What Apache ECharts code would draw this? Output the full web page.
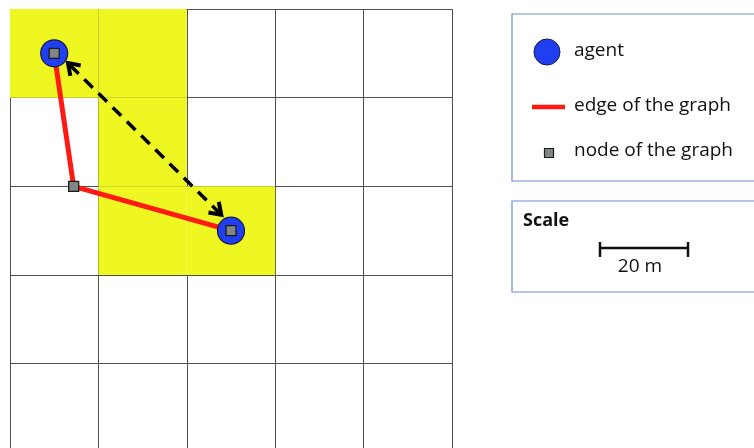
<!DOCTYPE html>
<html><head><meta charset="utf-8">
<script src="https://cdn.jsdelivr.net/npm/echarts@6/dist/echarts.min.js"></script>
<style>html,body{margin:0;padding:0;background:#fff}#c{width:754px;height:448px}</style>
</head><body><div id="c"></div>
<script>
// grid cells (column, row) highlighted in yellow
const yellowCells = [[0,0],[1,0],[1,1],[1,2],[2,2]];
// agents positions (x, y) in cell units
const agents = [[0.5,0.5],[2.5,2.5]];
// graph nodes
const nodes = [[0.5,0.5],[0.72,2.0],[2.5,2.5]];
// graph edge path
const edgePath = [[0.5,0.5],[0.72,2.0],[2.5,2.5]];
// dashed double arrow between agents (x1,y1,x2,y2)
const arrowSeg = [[0.655,0.61,2.39,2.32]];
// legend labels
const legendLabels = ['agent','edge of the graph','node of the graph'];
const scaleTitle = 'Scale';
const scaleLabel = '20 m';

const chart = echarts.init(document.getElementById('c'), null, {renderer:'canvas'});
const font = '"Open Sans", "Noto Sans", sans-serif';
const gridLine = {show:true, lineStyle:{color:'#505050', width:1}};
const option = {
  animation:false,
  backgroundColor:'#fff',
  grid:{left:10, top:9, width:442, height:439, containLabel:false},
  xAxis:{type:'value', min:0, max:5, interval:1, axisLabel:{show:false}, axisTick:{show:false}, axisLine:{show:false}, splitLine:gridLine},
  yAxis:{type:'value', min:0, max:4.95, interval:1, inverse:true, axisLabel:{show:false}, axisTick:{show:false}, axisLine:{show:false}, splitLine:gridLine},
  series:[
    {type:'custom', z:1, data:yellowCells, renderItem:function(params, api){
      const p0 = api.coord([api.value(0), api.value(1)]);
      const p1 = api.coord([api.value(0)+1, api.value(1)+1]);
      return {type:'rect', shape:{x:p0[0], y:p0[1], width:p1[0]-p0[0], height:p1[1]-p0[1]}, style:{fill:'#EEF722'}, z2:0};
    }},
    {type:'line', z:5, data:edgePath, symbol:'none', lineStyle:{color:'#FF1A14', width:5}},
    {type:'custom', z:6, data:arrowSeg, renderItem:function(params, api){
      const a = api.coord([api.value(0), api.value(1)]);
      const b = api.coord([api.value(2), api.value(3)]);
      const dx=b[0]-a[0], dy=b[1]-a[1], L=Math.hypot(dx,dy), ux=dx/L, uy=dy/L;
      const head=(tip,dir)=>{
        const ang=0.6, len=13;
        const bx=-dir[0], by=-dir[1];
        const r1=[bx*Math.cos(ang)-by*Math.sin(ang), bx*Math.sin(ang)+by*Math.cos(ang)];
        const r2=[bx*Math.cos(-ang)-by*Math.sin(-ang), bx*Math.sin(-ang)+by*Math.cos(-ang)];
        return {type:'polyline', shape:{points:[[tip[0]+r1[0]*len, tip[1]+r1[1]*len], tip, [tip[0]+r2[0]*len, tip[1]+r2[1]*len]]},
          style:{stroke:'#000', lineWidth:4, fill:null, lineJoin:'miter'}};
      };
      return {type:'group', children:[
        {type:'line', shape:{x1:a[0]+ux*3, y1:a[1]+uy*3, x2:b[0]-ux*3, y2:b[1]-uy*3}, style:{stroke:'#000', lineWidth:3.5, lineDash:[12,8]}},
        head(a,[-ux,-uy]), head(b,[ux,uy])
      ]};
    }},
    {type:'scatter', z:7, data:agents, symbol:'circle', symbolSize:27, itemStyle:{color:'#1F3FF0', borderColor:'#1a1a4a', borderWidth:1.2, opacity:1}},
    {type:'scatter', z:8, data:nodes, symbol:'rect', symbolSize:10, itemStyle:{color:'#808585', borderColor:'#1a1a1a', borderWidth:1.3, opacity:1}}
  ],
  graphic:[
    {type:'rect', shape:{x:512, y:14, width:260, height:167}, style:{fill:'#fff', stroke:'#6A8FCC', lineWidth:1.2}},
    {type:'circle', shape:{cx:547, cy:52, r:13}, style:{fill:'#1F3FF0', stroke:'#1a1a4a', lineWidth:1}},
    {type:'text', x:574, y:51, style:{text:legendLabels[0], font:'19px '+font, fill:'#111', verticalAlign:'middle'}},
    {type:'line', shape:{x1:532, y1:107, x2:565, y2:107}, style:{stroke:'#FF1A14', lineWidth:4.5}},
    {type:'text', x:574, y:106, style:{text:legendLabels[1], font:'19px '+font, fill:'#111', verticalAlign:'middle'}},
    {type:'rect', shape:{x:544.5, y:148.5, width:9, height:9}, style:{fill:'#808585', stroke:'#1a1a1a', lineWidth:1.2}},
    {type:'text', x:574, y:151, style:{text:legendLabels[2], font:'19px '+font, fill:'#111', verticalAlign:'middle'}},
    {type:'rect', shape:{x:512, y:201, width:260, height:91}, style:{fill:'#fff', stroke:'#6A8FCC', lineWidth:1.2}},
    {type:'text', x:523, y:221, style:{text:scaleTitle, font:'bold 18px '+font, fill:'#111', verticalAlign:'middle'}},
    {type:'line', shape:{x1:599, y1:248, x2:688, y2:248}, style:{stroke:'#111', lineWidth:2.5}},
    {type:'line', shape:{x1:600, y1:242, x2:600, y2:257}, style:{stroke:'#111', lineWidth:2.5}},
    {type:'line', shape:{x1:688, y1:242, x2:688, y2:257}, style:{stroke:'#111', lineWidth:2.5}},
    {type:'text', x:640, y:267, style:{text:scaleLabel, font:'19px '+font, fill:'#111', align:'center', verticalAlign:'middle'}}
  ]
};
chart.setOption(option);
</script></body></html>
